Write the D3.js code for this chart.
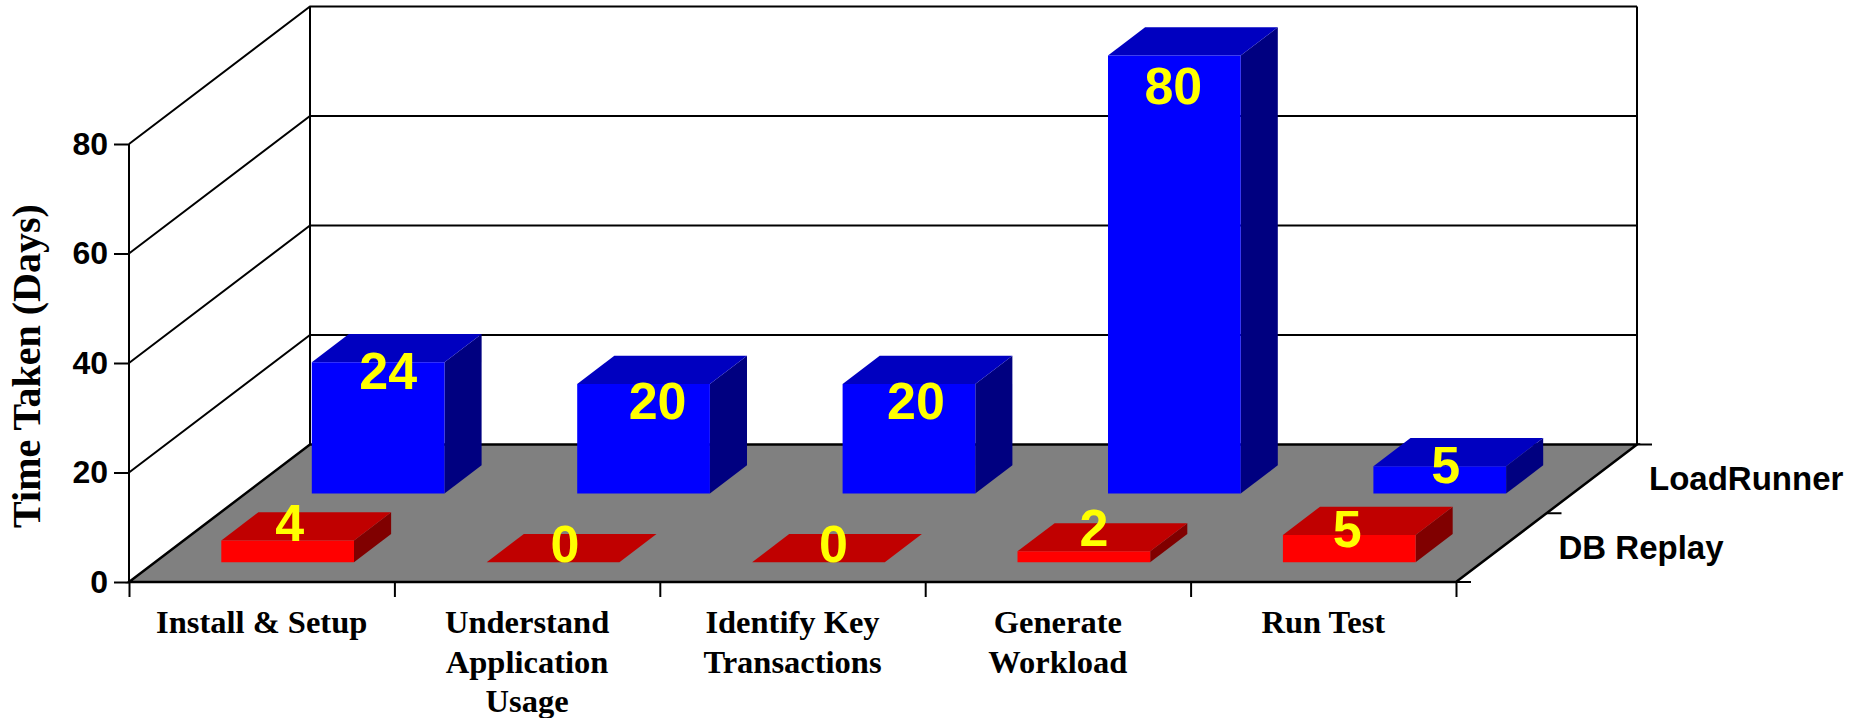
<!DOCTYPE html>
<html>
<head>
<meta charset="utf-8">
<script src="https://cdn.jsdelivr.net/npm/d3@7"></script>
<style>
  html, body { margin: 0; padding: 0; background: #fff; overflow: hidden; }
  .y-axis text, .series-label { font-family: "Liberation Sans", Arial, sans-serif; font-weight: bold; fill: #000; }
  .x-axis text, .axis-title { font-family: "Liberation Serif", "Times New Roman", serif; font-weight: bold; fill: #000; }
  .value-label { font-family: "Liberation Sans", Arial, sans-serif; font-weight: bold; fill: #ffff00; }
</style>
</head>
<body>
<div id="d3-container"></div>
<script>
// Data
const categories = ["Install & Setup", "Understand Application Usage", "Identify Key Transactions", "Generate Workload", "Run Test"];
const seriesNames = ["DB Replay", "LoadRunner"];
const dbReplay = [4, 0, 0, 2, 5];
const loadRunner = [24, 20, 20, 80, 5];
const yTicks = [0, 20, 40, 60, 80];
const categoryLines = [["Install & Setup"], ["Understand", "Application", "Usage"], ["Identify Key", "Transactions"], ["Generate", "Workload"], ["Run Test"]];

// The value labels were placed by hand in the original, so they get their own nudges
const labelNudgeDb = [[2, 1], [12, 0], [15, 0], [10, -5], [-2, 12]];
const labelNudgeLr = [[10, 27], [14, 34.5], [7, 34.5], [-1, 48], [6, 17]];

// Chart dimensions
const width = 1849;
const height = 718;
const origin = { x: 129, y: 582 };
const depth = { x: 181, y: 137.5 };
const plotWidth = 1327;
const plotHeight = 438;

const svg = d3.select("#d3-container").append("svg")
  .attr("width", width)
  .attr("height", height)
  .style("display", "block");

// Scales
const xScale = d3.scaleBand().domain(categories).range([0, plotWidth]).paddingInner(0.5).paddingOuter(0.25);
const yScale = d3.scaleLinear().domain([0, 80]).range([0, plotHeight]);
const zScale = d3.scaleBand().domain(seriesNames).range([0, 1]).paddingInner(0.59).paddingOuter(0.295).align(0.486);

// x along the front edge, z into the floor (0 to 1), v is the value
const project = (x, z, v) => [origin.x + x + z * depth.x, origin.y - yScale(v) - z * depth.y];
const path = (pts, close) => "M" + pts.map((p) => p.join(",")).join("L") + (close ? "Z" : "");

// Walls and grid lines
const walls = svg.append("g").attr("fill", "none").attr("stroke", "#000").attr("stroke-width", 2);
yTicks.filter((t) => t > 0).forEach((t) => {
  walls.append("path").attr("d", path([project(0, 0, t), project(0, 1, t), project(plotWidth, 1, t)]));
});
walls.append("path").attr("d", path([project(0, 0, 0), project(0, 0, 80)]));
walls.append("path").attr("d", path([project(0, 1, 0), project(0, 1, 80)]));
walls.append("path").attr("d", path([project(plotWidth, 1, 0), project(plotWidth, 1, 80)]));

// Floor
svg.append("path")
  .attr("d", path([project(0, 0, 0), project(plotWidth, 0, 0), project(plotWidth, 1, 0), project(0, 1, 0)], true))
  .attr("fill", "#808080")
  .attr("stroke", "#000")
  .attr("stroke-width", 2.5);

// Axes
const yAxis = d3.axisLeft(d3.scaleLinear().domain([0, 80]).range([origin.y, origin.y - plotHeight]))
  .tickValues(yTicks).tickSize(15).tickPadding(6);
svg.append("g")
  .attr("class", "y-axis")
  .attr("transform", `translate(${origin.x}, 0)`)
  .call(yAxis)
  .call((g) => g.select(".domain").remove())
  .call((g) => g.selectAll("line").attr("stroke-width", 2))
  .call((g) => g.selectAll("text").style("font-size", "32px"));

const xAxis = d3.axisBottom(d3.scalePoint().domain(d3.range(categories.length + 1)).range([0, plotWidth]))
  .tickSize(15).tickFormat("");
svg.append("g")
  .attr("class", "x-axis")
  .attr("transform", `translate(${origin.x}, ${origin.y})`)
  .call(xAxis)
  .call((g) => g.select(".domain").remove())
  .call((g) => g.selectAll("line").attr("stroke-width", 2));

// Category labels, one text per line
const catLabel = svg.select(".x-axis").selectAll(".cat-label")
  .data(categories)
  .enter()
  .append("text")
  .attr("class", "cat-label")
  .attr("text-anchor", "middle")
  .style("font-size", "32.5px");
catLabel.selectAll("tspan")
  .data((d, i) => categoryLines[i])
  .enter()
  .append("tspan")
  .attr("x", function () { return xScale(d3.select(this.parentNode).datum()) + xScale.bandwidth() / 2; })
  .attr("y", (d, i) => 51 + i * 39.5)
  .text((d) => d);

// Depth axis ticks on the right of the floor
const depthTicks = svg.append("g").attr("stroke", "#000").attr("stroke-width", 2);
[0, 0.5, 1].forEach((z) => {
  const p = project(plotWidth, z, 0);
  depthTicks.append("line").attr("x1", p[0]).attr("x2", p[0] + 15).attr("y1", p[1]).attr("y2", p[1]);
});

// Series names
svg.selectAll(".series-label")
  .data(seriesNames)
  .enter()
  .append("text")
  .attr("class", "series-label")
  .attr("x", (d) => project(plotWidth, zScale(d) + zScale.bandwidth() / 2, 0)[0] + 58)
  .attr("y", (d) => project(plotWidth, zScale(d) + zScale.bandwidth() / 2, 0)[1] + 11)
  .style("font-size", "33px")
  .text((d) => d);

// Axis title
svg.append("text")
  .attr("class", "axis-title")
  .attr("transform", "translate(39.5, 366) rotate(-90)")
  .attr("text-anchor", "middle")
  .style("font-size", "40px")
  .text("Time Taken (Days)");

// Bars, back row first so the front row sits on top
const palette = {
  "LoadRunner": { front: "#0000ff", top: "#0000c0", side: "#000080" },
  "DB Replay": { front: "#ff0000", top: "#c00000", side: "#800000" },
};
const rows = [
  { name: "LoadRunner", values: loadRunner, nudge: labelNudgeLr },
  { name: "DB Replay", values: dbReplay, nudge: labelNudgeDb },
];

rows.forEach((row) => {
  const z0 = zScale(row.name);
  const z1 = z0 + zScale.bandwidth();
  const colors = palette[row.name];
  const bar = svg.append("g").selectAll("g")
    .data(row.values.map((v, i) => ({ v, cat: categories[i], nudge: row.nudge[i] })))
    .enter()
    .append("g");
  const left = (d) => xScale(d.cat);
  const right = (d) => xScale(d.cat) + xScale.bandwidth();

  bar.append("path")
    .attr("fill", colors.side)
    .attr("d", (d) => path([project(right(d), z0, 0), project(right(d), z1, 0), project(right(d), z1, d.v), project(right(d), z0, d.v)], true));
  bar.append("path")
    .attr("fill", colors.top)
    .attr("d", (d) => path([project(left(d), z0, d.v), project(right(d), z0, d.v), project(right(d), z1, d.v), project(left(d), z1, d.v)], true));
  bar.append("path")
    .attr("fill", colors.front)
    .attr("d", (d) => path([project(left(d), z0, 0), project(right(d), z0, 0), project(right(d), z0, d.v), project(left(d), z0, d.v)], true));
  bar.append("text")
    .attr("class", "value-label")
    .attr("text-anchor", "middle")
    .attr("x", (d) => project(left(d) + xScale.bandwidth() / 2, z0, d.v)[0] + d.nudge[0])
    .attr("y", (d) => project(left(d) + xScale.bandwidth() / 2, z0, d.v)[1] + d.nudge[1])
    .style("font-size", "52px")
    .text((d) => d.v);
});
</script>
</body>
</html>
